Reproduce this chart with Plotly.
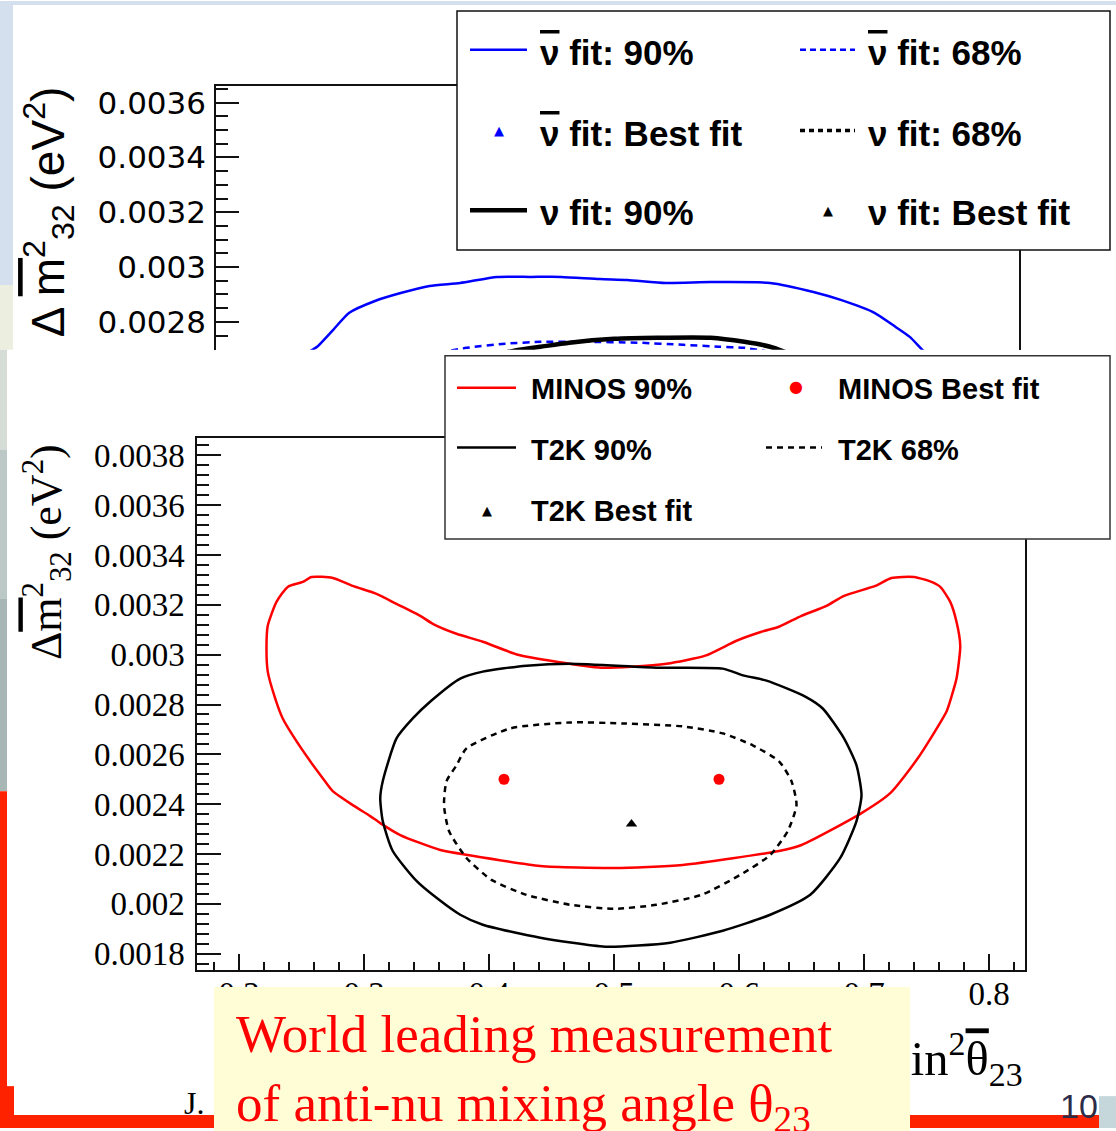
import plotly.graph_objects as go

W, H = 1116, 1131

# ---------------- bottom plot data (antineutrino: MINOS vs T2K) ----------------
minos90_x = [0.258, 0.275, 0.291, 0.310, 0.326, 0.345, 0.355, 0.374, 0.395, 0.423, 0.454, 0.490, 0.514,
             0.542, 0.573, 0.598, 0.618, 0.632, 0.650, 0.670, 0.684, 0.709, 0.722, 0.740, 0.754, 0.761,
             0.769, 0.774, 0.777, 0.774, 0.770, 0.766, 0.743, 0.721, 0.698, 0.650, 0.632, 0.555, 0.500,
             0.441, 0.383, 0.361, 0.329, 0.313, 0.305, 0.291, 0.275, 0.267, 0.257, 0.243, 0.235, 0.229,
             0.223, 0.222, 0.223, 0.230, 0.239, 0.251, 0.258]
minos90_y = [0.003312, 0.003308, 0.003276, 0.003244, 0.003204, 0.003156, 0.003124, 0.003084, 0.003052,
             0.003000, 0.002972, 0.002948, 0.002952, 0.002964, 0.002996, 0.003056, 0.003092, 0.003112,
             0.003156, 0.003196, 0.003236, 0.003276, 0.003308, 0.003312, 0.003292, 0.003272, 0.003212,
             0.003132, 0.003036, 0.002904, 0.002832, 0.002772, 0.002584, 0.002444, 0.002364, 0.002236,
             0.002212, 0.002156, 0.002144, 0.002152, 0.002196, 0.002216, 0.002276, 0.002324, 0.002352,
             0.002396, 0.002452, 0.002504, 0.002572, 0.002676, 0.002744, 0.002824, 0.002932, 0.003036,
             0.003116, 0.003212, 0.003272, 0.003292, 0.003312]
minos_best_x = [0.412, 0.584]
minos_best_y = [0.0025, 0.0025]

t2k90_x = [0.326, 0.339, 0.354, 0.377, 0.395, 0.430, 0.465, 0.534, 0.587, 0.604, 0.622, 0.653, 0.667,
           0.684, 0.694, 0.698, 0.694, 0.681, 0.657, 0.625, 0.587, 0.545, 0.493, 0.441, 0.395, 0.377,
           0.358, 0.342, 0.323, 0.315, 0.313, 0.315, 0.326]
t2k90_y = [0.002664, 0.002744, 0.002816, 0.002904, 0.002932, 0.002956, 0.002964, 0.002948, 0.002944,
           0.002916, 0.002896, 0.002832, 0.002784, 0.002664, 0.002556, 0.002436, 0.002332, 0.002184,
           0.002036, 0.001956, 0.001892, 0.001844, 0.001828, 0.001864, 0.001916, 0.001956, 0.002024,
           0.002092, 0.002212, 0.002332, 0.002424, 0.002492, 0.002664]

t2k68_x = [0.364, 0.366, 0.374, 0.382, 0.417, 0.465, 0.507, 0.555, 0.587, 0.611, 0.632, 0.642, 0.646,
           0.639, 0.625, 0.601, 0.570, 0.534, 0.500, 0.465, 0.430, 0.402, 0.382, 0.368, 0.364]
t2k68_y = [0.002396, 0.002492, 0.002556, 0.002624, 0.002704, 0.002728, 0.002724, 0.002712, 0.002684,
           0.002636, 0.002572, 0.002492, 0.002396, 0.002292, 0.002196, 0.002116, 0.002036, 0.001996,
           0.001980, 0.001996, 0.002036, 0.002096, 0.002184, 0.002292, 0.002396]

t2k_best_x = [0.514]
t2k_best_y = [0.00232]

# ---------------- top plot data (nu vs nubar fit) ----------------
nubar90_x = [0.305, 0.310, 0.313, 0.323, 0.333, 0.349, 0.365, 0.383, 0.402, 0.425, 0.446, 0.465, 0.489,
             0.506, 0.530, 0.558, 0.595, 0.622, 0.639, 0.660, 0.673, 0.682, 0.691, 0.694]
nubar90_y = [0.002680, 0.002698, 0.002709, 0.002771, 0.002833, 0.002876, 0.002905, 0.002931, 0.002942,
             0.002964, 0.002964, 0.002964, 0.002956, 0.002953, 0.002942, 0.002945, 0.002942, 0.002909,
             0.002880, 0.002833, 0.002782, 0.002745, 0.002691, 0.002680]
nubar68_x = [0.389, 0.406, 0.430, 0.452, 0.479, 0.512, 0.541, 0.563, 0.579, 0.598]
nubar68_y = [0.002687, 0.002705, 0.002720, 0.002727, 0.002727, 0.002724, 0.002716, 0.002709, 0.002705,
             0.002687]
nu90_x = [0.427, 0.439, 0.452, 0.470, 0.498, 0.525, 0.558, 0.579, 0.595, 0.607]
nu90_y = [0.002684, 0.002698, 0.002709, 0.002724, 0.002738, 0.002742, 0.002742, 0.002727, 0.002709,
          0.002684]

# ---------------- ticks ----------------
bot_x_ticks = [0.2, 0.3, 0.4, 0.5, 0.6, 0.7, 0.8]
bot_x_labels = ["0.2", "0.3", "0.4", "0.5", "0.6", "0.7", "0.8"]
bot_y_ticks = [0.0018, 0.002, 0.0022, 0.0024, 0.0026, 0.0028, 0.003, 0.0032, 0.0034, 0.0036, 0.0038]
bot_y_labels = ["0.0018", "0.002", "0.0022", "0.0024", "0.0026", "0.0028", "0.003", "0.0032",
                "0.0034", "0.0036", "0.0038"]
top_y_ticks = [0.0028, 0.003, 0.0032, 0.0034, 0.0036]
top_y_labels = ["0.0028", "0.003", "0.0032", "0.0034", "0.0036"]

OV = "<span style='text-decoration:overline'>{}</span>"
NUBAR = OV.format("\u03bd")

# legend labels
top_legend_labels = [NUBAR + " fit: 90%", NUBAR + " fit: 68%", NUBAR + " fit: Best fit",
                     "\u03bd fit: 68%", "\u03bd fit: 90%", "\u03bd fit: Best fit"]
bot_legend_labels = ["MINOS 90%", "MINOS Best fit", "T2K 90%", "T2K 68%", "T2K Best fit"]


def px(x):
    return x / W


def py(y):
    return 1 - y / H


fig = go.Figure()

SM = dict(shape="spline", smoothing=0.6)

# bottom plot traces
fig.add_trace(go.Scatter(x=minos90_x, y=minos90_y, mode="lines", line=dict(color="#ff0000", width=2.5, **SM),
                         xaxis="x", yaxis="y", showlegend=False))
fig.add_trace(go.Scatter(x=t2k90_x, y=t2k90_y, mode="lines", line=dict(color="black", width=2.5, **SM),
                         xaxis="x", yaxis="y", showlegend=False))
fig.add_trace(go.Scatter(x=t2k68_x, y=t2k68_y, mode="lines",
                         line=dict(color="black", width=2.5, dash="6px,5px", **SM),
                         xaxis="x", yaxis="y", showlegend=False))
fig.add_trace(go.Scatter(x=minos_best_x, y=minos_best_y, mode="markers",
                         marker=dict(color="#ff0000", size=11, symbol="circle"),
                         xaxis="x", yaxis="y", showlegend=False))
fig.add_trace(go.Scatter(x=t2k_best_x, y=t2k_best_y, mode="markers",
                         marker=dict(color="black", size=10, symbol="triangle-up"),
                         xaxis="x", yaxis="y", showlegend=False))

# top plot traces
fig.add_trace(go.Scatter(x=nubar90_x, y=nubar90_y, mode="lines", line=dict(color="#0000ff", width=2.5, **SM),
                         xaxis="x2", yaxis="y2", showlegend=False))
fig.add_trace(go.Scatter(x=nubar68_x, y=nubar68_y, mode="lines",
                         line=dict(color="#0000ff", width=2.5, dash="7px,5px", **SM),
                         xaxis="x2", yaxis="y2", showlegend=False))
fig.add_trace(go.Scatter(x=nu90_x, y=nu90_y, mode="lines", line=dict(color="black", width=4.5, **SM),
                         xaxis="x2", yaxis="y2", showlegend=False))

axcol = "#111111"
serif = "Liberation Serif"
sans = "Liberation Sans"

fig.update_layout(
    width=W, height=H,
    margin=dict(l=0, r=0, t=0, b=0),
    paper_bgcolor="white", plot_bgcolor="white",
    showlegend=False,
    xaxis=dict(domain=[px(197), px(1025)], range=[0.1664, 0.8288], anchor="y",
               showline=True, mirror=True, linecolor=axcol, linewidth=1.5,
               showgrid=False, zeroline=False,
               tickmode="array", tickvals=bot_x_ticks, ticktext=bot_x_labels,
               ticks="inside", ticklen=16, tickwidth=1.5, tickcolor=axcol,
               tickfont=dict(family=serif, size=33, color="black"),
               ticklabelstandoff=-6,
               minor=dict(tickmode="linear", tick0=0.2, dtick=0.02, ticks="inside", ticklen=8,
                          tickwidth=1.5, tickcolor=axcol, showgrid=False)),
    yaxis=dict(domain=[py(972), py(439)], range=[0.001736, 0.003868], anchor="x",
               showline=True, mirror=True, linecolor=axcol, linewidth=1.5,
               showgrid=False, zeroline=False,
               tickmode="array", tickvals=bot_y_ticks, ticktext=bot_y_labels,
               ticks="inside", ticklen=24, tickwidth=1.5, tickcolor=axcol,
               tickfont=dict(family=serif, size=33, color="black"),
               ticklabelstandoff=4,
               minor=dict(tickmode="linear", tick0=0.0018, dtick=0.00004, ticks="inside", ticklen=12,
                          tickwidth=1.5, tickcolor=axcol, showgrid=False)),
    xaxis2=dict(domain=[px(216), px(1019)], range=[0.25, 0.75], anchor="y2", side="top",
                showline=True, mirror=False, linecolor=axcol, linewidth=1.5,
                showgrid=False, zeroline=False, showticklabels=False, ticks=""),
    yaxis2=dict(domain=[py(350), py(85)], range=[0.002698, 0.003662], anchor="x2",
                showline=True, mirror=True, linecolor=axcol, linewidth=1.5,
                showgrid=False, zeroline=False,
                tickmode="array", tickvals=top_y_ticks, ticktext=top_y_labels,
                ticks="inside", ticklen=23, tickwidth=1.5, tickcolor=axcol,
                tickfont=dict(family="DejaVu Sans", size=31, color="black"),
                ticklabelstandoff=2,
                minor=dict(tickmode="linear", tick0=0.0028, dtick=0.00005, ticks="inside", ticklen=12,
                           tickwidth=1.5, tickcolor=axcol, showgrid=False)),
)

shapes = []


def rect(x0, y0, x1, y1, fill, layer="below", line=None):
    d = dict(type="rect", xref="paper", yref="paper", x0=px(x0), x1=px(x1), y0=py(y1), y1=py(y0),
             fillcolor=fill, layer=layer)
    d["line"] = line if line else dict(width=0)
    shapes.append(d)


def hline(x0, x1, y, color, width, dash="solid"):
    shapes.append(dict(type="line", xref="paper", yref="paper", x0=px(x0), x1=px(x1), y0=py(y), y1=py(y),
                       line=dict(color=color, width=width, dash=dash), layer="above"))


# slide decorations
rect(0, 0, W, 4, "#d4e0ee")
rect(0, 0, 13, 285, "#d4e0ee")
rect(0, 285, 13, 350, "#eceee0")
rect(0, 350, 7, 450, "#d6ddd6")
rect(0, 450, 7, 600, "#bcc8c6")
rect(0, 600, 7, 793, "#a8b7b6")
rect(0, 793, 7, H, "#ff2200")
rect(0, 1089, 14, H, "#ff2200")
rect(0, 1118, 1099, H, "#ff2200")
rect(1099, 1099, W, H, "#c6d7db")

# legend boxes
rect(457, 10, 1110, 250, "white", layer="above", line=dict(color="#111111", width=1.5))
rect(445, 356, 1110, 540, "white", layer="above", line=dict(color="#333333", width=1.5))

# top legend samples
hline(470, 527, 49, "#0000ff", 2.5)
hline(800, 855, 49, "#0000ff", 2.5, "6px,4px")
hline(800, 855, 130, "black", 3.5, "5px,4px")
hline(470, 527, 210, "black", 4.5)
# bottom legend samples
hline(457, 516, 388, "#ff0000", 2.5)
hline(457, 516, 448, "black", 2.5)
hline(766, 822, 448, "black", 2.5, "6px,5px")

fig.update_layout(shapes=shapes)

ann = []


def text(x, y, s, size, family=sans, color="black", xanchor="left", yanchor="middle", angle=0, **kw):
    ann.append(dict(x=px(x), y=py(y), xref="paper", yref="paper", text=s, showarrow=False,
                    xanchor=xanchor, yanchor=yanchor, textangle=angle,
                    font=dict(family=family, size=size, color=color), **kw))


# top legend text
tl = top_legend_labels
text(538, 52, "<b>" + tl[0] + "</b>", 35)
text(866, 52, "<b>" + tl[1] + "</b>", 35)
text(538, 133, "<b>" + tl[2] + "</b>", 35)
text(866, 133, "<b>" + tl[3] + "</b>", 35)
text(538, 212, "<b>" + tl[4] + "</b>", 35)
text(866, 212, "<b>" + tl[5] + "</b>", 35)
text(499, 130, "\u25b2", 13, family="DejaVu Sans", color="#0000ff", xanchor="center")
text(828, 210, "\u25b2", 13, family="DejaVu Sans", color="black", xanchor="center")

# bottom legend text
bl = bot_legend_labels
text(529, 389, "<b>" + bl[0] + "</b>", 29)
text(836, 389, "<b>" + bl[1] + "</b>", 29)
text(529, 451, "<b>" + bl[2] + "</b>", 29)
text(836, 451, "<b>" + bl[3] + "</b>", 29)
text(529, 512, "<b>" + bl[4] + "</b>", 29)
text(796, 387, "\u25cf", 16, family="DejaVu Sans", color="#ff0000", xanchor="center")
text(487, 511, "\u25b2", 13, family="DejaVu Sans", color="black", xanchor="center")

# axis titles
text(48, 212, "\u0394 " + OV.format("m") + "<sup>2</sup><sub>32</sub> (eV<sup>2</sup>)", 46, family=sans,
     xanchor="center", angle=-90)
text(47, 553, "\u0394" + OV.format("m") + "<sup>2</sup><sub>32</sub> (eV<sup>2</sup>)", 44, family=serif,
     xanchor="center", angle=-90)
text(1025, 1062, "sin<sup>2</sup>" + OV.format("\u03b8") + "<sub>23</sub>", 48.5, family=serif,
     xanchor="right")
text(194, 1106, "J.", 32, family=serif, xanchor="center")

# yellow callout box and its text
ann.append(dict(x=px(214), y=py(989), xref="paper", yref="paper", text="&nbsp;", showarrow=False,
                xanchor="left", yanchor="top", width=696, height=170, bgcolor="#fffdd6",
                borderpad=0, borderwidth=0, font=dict(size=10)))
text(234, 1006, "World leading measurement<br>of anti-nu mixing angle \u03b8<sub>23</sub>", 53,
     family=serif, color="#ff0000", yanchor="top", align="left")

# page number
text(1079, 1109, "10", 34, family=sans, color="#2c2c48", xanchor="center")

fig.update_layout(annotations=ann)

fig.write_html("out.html")
